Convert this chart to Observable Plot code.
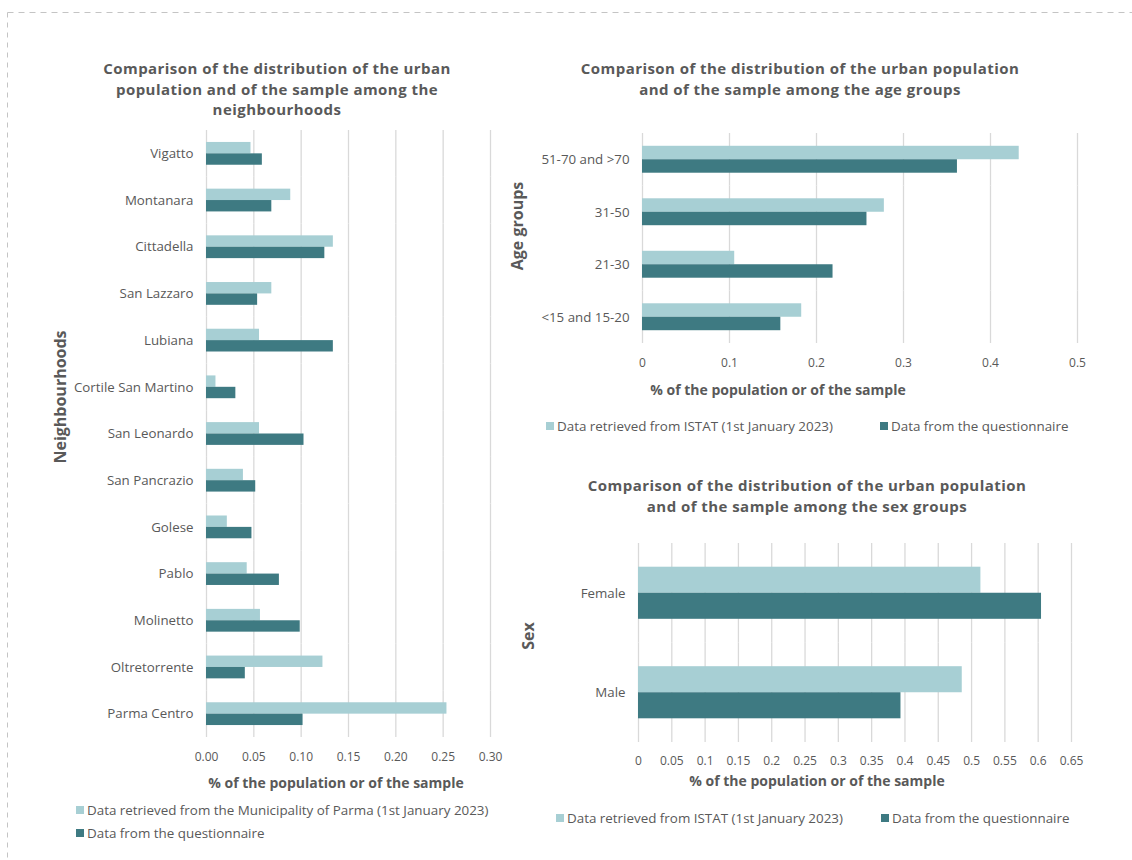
<!DOCTYPE html>
<html>
<head>
<meta charset="utf-8">
<script src="https://cdn.jsdelivr.net/npm/d3@7"></script>
<script src="https://cdn.jsdelivr.net/npm/@observablehq/plot@0.6"></script>
<style>
  html, body { margin: 0; padding: 0; background: #ffffff; }
  body { width: 1132px; height: 860px; position: relative; overflow: hidden;
         font-family: "Open Sans", sans-serif; color: #595959; }
  .abs { position: absolute; }
  .title { font-weight: bold; font-size: 15px; letter-spacing: 0.45px; line-height: 20.5px; text-align: center; white-space: nowrap; }
  .axis-title { font-weight: bold; font-size: 14px; white-space: nowrap; transform: translate(-50%, -50%); }
  .y-title { font-weight: bold; font-size: 16px; white-space: nowrap; transform: translate(-50%, -50%) rotate(-90deg); }
  .legend-item { font-size: 13.4px; white-space: nowrap; display: flex; align-items: center; transform: translateY(-50%); }
  .swatch { width: 8px; height: 8px; margin-right: 3px; display: inline-block; }
  .plot-holder svg g[aria-label="fy-axis tick label"] text { font-size: 13.3px; }
</style>
</head>
<body>
<svg class="abs" style="left:0;top:0" width="1132" height="860">
  <line x1="7.5" y1="12.5" x2="1132" y2="12.5" stroke="#c4c4c4" stroke-dasharray="6 5"></line>
  <line x1="7.5" y1="12.5" x2="7.5" y2="860" stroke="#c4c4c4" stroke-dasharray="5 5"></line>
</svg>
<div id="root"></div>
<script>
// Neighbourhoods of Parma: share of the urban population vs. share of the sample
const neighbourhoods = ["Vigatto", "Montanara", "Cittadella", "San Lazzaro", "Lubiana",
  "Cortile San Martino", "San Leonardo", "San Pancrazio", "Golese", "Pablo",
  "Molinetto", "Oltretorrente", "Parma Centro"];
const neighMunicipality = [0.047, 0.089, 0.134, 0.069, 0.056, 0.010, 0.056, 0.039, 0.022, 0.043, 0.057, 0.123, 0.254];
const neighQuestionnaire = [0.059, 0.069, 0.125, 0.054, 0.134, 0.031, 0.103, 0.052, 0.048, 0.077, 0.099, 0.041, 0.102];
const neighTicks = [0, 0.05, 0.10, 0.15, 0.20, 0.25, 0.30];

// Age groups
const ageGroups = ["51-70 and >70", "31-50", "21-30", "<15 and 15-20"];
const ageIstat = [0.433, 0.278, 0.106, 0.183];
const ageQuestionnaire = [0.362, 0.258, 0.219, 0.159];
const ageTicks = [0, 0.1, 0.2, 0.3, 0.4, 0.5];

// Sex groups
const sexGroups = ["Female", "Male"];
const sexIstat = [0.514, 0.486];
const sexQuestionnaire = [0.605, 0.394];
const sexTicks = [0, 0.05, 0.1, 0.15, 0.2, 0.25, 0.3, 0.35, 0.4, 0.45, 0.5, 0.55, 0.6, 0.65];

// Series names and colours
const seriesMunicipality = "Data retrieved from the Municipality of Parma (1st January 2023)";
const seriesIstat = "Data retrieved from ISTAT (1st January 2023)";
const seriesQuestionnaire = "Data from the questionnaire";
const lightTeal = "#a7cfd4";
const darkTeal = "#3e7a82";
const textGrey = "#595959";
const gridGrey = "#d9d9d9";

const root = document.getElementById("root");

function rowsFrom(categories, seriesA, valuesA, seriesB, valuesB) {
  const rows = [];
  categories.forEach((c, i) => {
    rows.push({category: c, series: seriesA, value: valuesA[i]});
    rows.push({category: c, series: seriesB, value: valuesB[i]});
  });
  return rows;
}

function groupedBars({rows, categories, series, ticks, tickFormat, domain,
                      left, top, width, height, margins, bandPadding, tickPadding, labelPadding}) {
  const chart = Plot.plot({
    width, height,
    marginLeft: margins.left, marginRight: margins.right,
    marginTop: margins.top, marginBottom: margins.bottom,
    style: {background: "transparent", fontFamily: "'Open Sans', sans-serif", fontSize: "12px", color: textGrey, overflow: "visible"},
    x: {domain, ticks, tickFormat, tickSize: 0, tickPadding, label: null},
    y: {domain: series, axis: null, paddingInner: 0, paddingOuter: bandPadding, round: false},
    fy: {domain: categories, padding: 0, round: false, axis: "left", tickSize: 0, tickPadding: labelPadding, label: null},
    color: {domain: series, range: [lightTeal, darkTeal]},
    marks: [
      Plot.ruleX(ticks, {stroke: gridGrey, strokeWidth: 1.3}),
      Plot.barX(rows, {x: "value", y: "series", fy: "category", fill: "series"})
    ]
  });
  const holder = document.createElement("div");
  holder.className = "abs plot-holder";
  holder.style.left = left + "px";
  holder.style.top = top + "px";
  holder.style.width = width + "px";
  holder.appendChild(chart);
  root.appendChild(holder);
}

function addText(cls, html, x, y) {
  const el = document.createElement("div");
  el.className = "abs " + cls;
  el.innerHTML = html;
  el.style.left = x + "px";
  el.style.top = y + "px";
  root.appendChild(el);
  return el;
}

function addTitle(lines, cx, topY) {
  const el = addText("title", lines.join("<br>"), cx, topY);
  el.style.transform = "translateX(-50%)";
}

function addLegendItem(label, color, x, y) {
  addText("legend-item", `<span class="swatch" style="background:${color}"></span>${label}`, x, y);
}

// Panel 1: neighbourhoods
groupedBars({
  rows: rowsFrom(neighbourhoods, seriesMunicipality, neighMunicipality, seriesQuestionnaire, neighQuestionnaire),
  categories: neighbourhoods, series: [seriesMunicipality, seriesQuestionnaire],
  ticks: neighTicks, tickFormat: d3.format(".2f"), domain: [0, 0.30],
  left: 0, top: 0, width: 510, height: 780,
  margins: {left: 206, right: 20, top: 130, bottom: 43},
  bandPadding: 1.05, tickPadding: 15, labelPadding: 13
});
addTitle(["Comparison of the distribution of the urban", "population and of the sample among the", "neighbourhoods"], 277, 58);
addText("axis-title", "% of the population or of the sample", 336, 782);
addText("y-title", "Neighbourhoods", 60, 397);
addLegendItem(seriesMunicipality, lightTeal, 76, 810);
addLegendItem(seriesQuestionnaire, darkTeal, 76, 833);

// Panel 2: age groups
groupedBars({
  rows: rowsFrom(ageGroups, seriesIstat, ageIstat, seriesQuestionnaire, ageQuestionnaire),
  categories: ageGroups, series: [seriesIstat, seriesQuestionnaire],
  ticks: ageTicks, tickFormat: d => String(d), domain: [0, 0.5],
  left: 500, top: 0, width: 600, height: 380,
  margins: {left: 142, right: 23, top: 133, bottom: 37},
  bandPadding: 0.95, tickPadding: 15, labelPadding: 13
});
addTitle(["Comparison of the distribution of the urban population", "and of the sample among the age groups"], 800, 58);
addText("axis-title", "% of the population or of the sample", 778, 389);
addText("y-title", "Age groups", 517, 226);
addLegendItem(seriesIstat, lightTeal, 546, 426);
addLegendItem(seriesQuestionnaire, darkTeal, 880, 426);

// Panel 3: sex groups
groupedBars({
  rows: rowsFrom(sexGroups, seriesIstat, sexIstat, seriesQuestionnaire, sexQuestionnaire),
  categories: sexGroups, series: [seriesIstat, seriesQuestionnaire],
  ticks: sexTicks, tickFormat: d => String(d), domain: [0, 0.65],
  left: 500, top: 500, width: 600, height: 280,
  margins: {left: 138, right: 29, top: 43, bottom: 38},
  bandPadding: 0.91, tickPadding: 14, labelPadding: 13
});
addTitle(["Comparison of the distribution of the urban population", "and of the sample among the sex groups"], 807, 475);
addText("axis-title", "% of the population or of the sample", 817, 780);
addText("y-title", "Sex", 528, 636);
addLegendItem(seriesIstat, lightTeal, 556, 818);
addLegendItem(seriesQuestionnaire, darkTeal, 881, 818);
</script>
</body>
</html>
